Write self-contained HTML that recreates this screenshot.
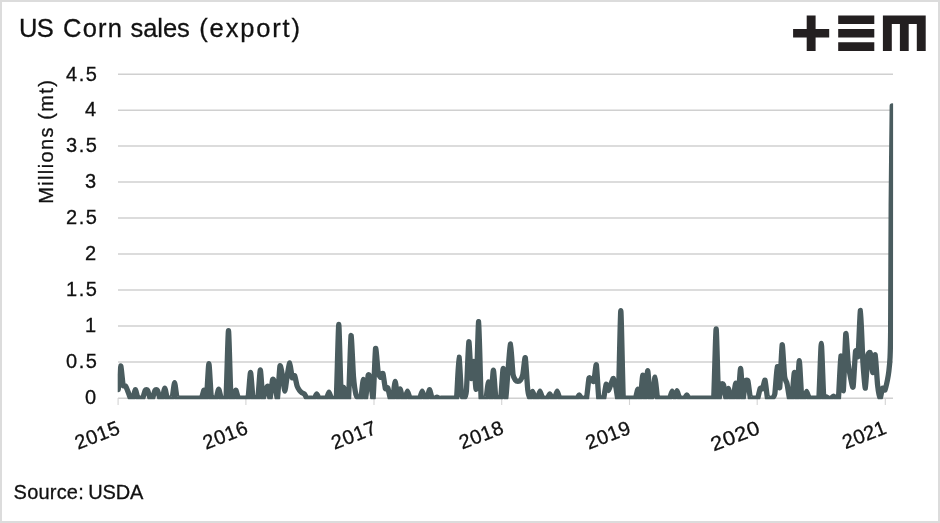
<!DOCTYPE html>
<html><head><meta charset="utf-8"><title>US Corn sales (export)</title>
<style>
html,body{margin:0;padding:0;background:#fff;}
body{width:940px;height:523px;overflow:hidden;position:relative;font-family:"Liberation Sans",sans-serif;}
#frame{position:absolute;left:0;top:0;width:936px;height:519px;border:2px solid #dcdcdc;background:#fff;}
svg{position:absolute;left:0;top:0;will-change:transform;}
text{font-family:"Liberation Sans",sans-serif;fill:#111;stroke:#111;stroke-width:0.3px;}
</style></head><body>
<div id="frame"></div>
<svg width="940" height="523" viewBox="0 0 940 523">
<defs><clipPath id="plot"><rect x="117.7" y="60" width="775.4" height="339.25"/></clipPath></defs>
<g stroke="#d0d0d0" stroke-width="1.5" fill="none"><line x1="118" x2="893" y1="74.15" y2="74.15"/><line x1="118" x2="893" y1="110.13" y2="110.13"/><line x1="118" x2="893" y1="146.11" y2="146.11"/><line x1="118" x2="893" y1="182.09" y2="182.09"/><line x1="118" x2="893" y1="218.07" y2="218.07"/><line x1="118" x2="893" y1="254.05" y2="254.05"/><line x1="118" x2="893" y1="290.03" y2="290.03"/><line x1="118" x2="893" y1="326.01" y2="326.01"/><line x1="118" x2="893" y1="361.99" y2="361.99"/></g>
<g stroke="#d0d0d0" stroke-width="1.3" fill="none"><line x1="118" x2="893" y1="398.25" y2="398.25"/></g><g stroke="#d4d4d4" stroke-width="1.1" fill="none"><line x1="118.1" x2="118.1" y1="398" y2="405"/><line x1="245.9" x2="245.9" y1="398" y2="405"/><line x1="374.0" x2="374.0" y1="398" y2="405"/><line x1="501.7" x2="501.7" y1="398" y2="405"/><line x1="629.5" x2="629.5" y1="398" y2="405"/><line x1="757.2" x2="757.2" y1="398" y2="405"/><line x1="885.3" x2="885.3" y1="398" y2="405"/></g>
<g font-size="25.5"><text x="19.06" y="37.1" letter-spacing="-0.6">US</text><text x="63.1" y="37.1" letter-spacing="1.17">Corn</text><text x="130.5" y="37.1" letter-spacing="-0.05">sales</text><text x="199.3" y="37.1" letter-spacing="1.83">(export)</text></g>
<g font-size="20"><text x="13.6" y="499.3" letter-spacing="0.2">Source:</text><text x="88.2" y="499.3" letter-spacing="-0.13">USDA</text></g>
<g font-size="20"><text x="98.4" y="80.5" text-anchor="end" letter-spacing="1.5">4.5</text><text x="96.1" y="116.4" text-anchor="end" letter-spacing="0">4</text><text x="98.4" y="152.4" text-anchor="end" letter-spacing="1.5">3.5</text><text x="96.1" y="188.4" text-anchor="end" letter-spacing="0">3</text><text x="98.4" y="224.4" text-anchor="end" letter-spacing="1.5">2.5</text><text x="96.1" y="260.3" text-anchor="end" letter-spacing="0">2</text><text x="98.4" y="296.3" text-anchor="end" letter-spacing="1.5">1.5</text><text x="96.1" y="332.3" text-anchor="end" letter-spacing="0">1</text><text x="98.4" y="368.3" text-anchor="end" letter-spacing="1.5">0.5</text><text x="96.1" y="404.3" text-anchor="end" letter-spacing="0">0</text></g>
<g font-size="20"><text transform="translate(121.6,433) rotate(-21) scale(1,1)" text-anchor="end" letter-spacing="0.55">2015</text><text transform="translate(249.6,433) rotate(-21) scale(1,1)" text-anchor="end" letter-spacing="0.55">2016</text><text transform="translate(378.2,433) rotate(-21) scale(1,1)" text-anchor="end" letter-spacing="0.55">2017</text><text transform="translate(505.1,433) rotate(-21) scale(1,1)" text-anchor="end" letter-spacing="0.35">2018</text><text transform="translate(632.4,433) rotate(-21) scale(1,1)" text-anchor="end" letter-spacing="0.55">2019</text><text transform="translate(761.7,433) rotate(-21) scale(1.1,1)" text-anchor="end" letter-spacing="0.55">2020</text><text transform="translate(887.7,433) rotate(-21) scale(1,1)" text-anchor="end" letter-spacing="0.15">2021</text></g>
<g font-size="20"><text transform="translate(52.9,203.8) rotate(-90)" letter-spacing="1.36">Millions</text><text transform="translate(52.9,119.8) rotate(-90)" letter-spacing="1.4">(mt)</text></g>
<g clip-path="url(#plot)"><path d="M118.25,389.61C118.25,389.61 120.21,366.27 120.70,365.84C121.19,365.41 122.66,383.26 123.15,385.29C123.45,386.55 125.11,385.50 125.60,386.15C126.09,386.80 127.56,390.56 128.05,391.77C128.54,392.98 130.01,397.60 130.50,398.25C130.99,398.90 132.46,399.11 132.95,398.25C133.44,397.39 134.91,389.61 135.40,389.61C135.89,389.61 137.36,397.39 137.85,398.25C138.34,399.11 139.81,398.25 140.30,398.25C140.79,398.25 142.26,399.04 142.75,398.25C143.24,397.46 144.71,391.12 145.20,390.33C145.69,389.54 147.16,389.54 147.65,390.33C148.13,391.12 149.60,397.46 150.09,398.25C150.58,399.04 152.05,399.04 152.54,398.25C153.03,397.46 154.50,391.12 154.99,390.33C155.48,389.54 156.95,389.54 157.44,390.33C157.93,391.12 159.40,397.46 159.89,398.25C160.38,399.04 161.85,399.26 162.34,398.25C162.83,397.24 164.30,388.17 164.79,388.17C165.28,388.17 166.75,397.24 167.24,398.25C167.73,399.26 169.20,398.25 169.69,398.25C170.18,398.25 171.78,399.42 172.14,398.25C172.63,396.68 174.10,382.55 174.59,382.55C175.08,382.55 176.55,396.68 177.04,398.25C177.41,399.42 179.00,398.25 179.49,398.25C179.98,398.25 181.45,398.25 181.94,398.25C182.43,398.25 183.90,398.25 184.39,398.25C184.88,398.25 186.35,398.25 186.84,398.25C187.33,398.25 188.80,398.25 189.29,398.25C189.78,398.25 191.25,398.25 191.74,398.25C192.23,398.25 193.70,398.25 194.19,398.25C194.68,398.25 196.15,398.25 196.64,398.25C197.13,398.25 198.60,398.25 199.09,398.25C199.58,398.25 201.05,399.05 201.54,398.25C202.03,397.45 203.50,390.26 203.99,390.26C204.48,390.26 205.95,400.91 206.44,398.25C206.93,395.59 208.40,363.61 208.89,363.61C209.38,363.61 210.85,394.79 211.34,398.25C211.51,399.46 213.30,398.25 213.79,398.25C214.28,398.25 215.75,399.17 216.24,398.25C216.73,397.33 218.20,389.03 218.69,389.03C219.18,389.03 220.65,397.33 221.14,398.25C221.63,399.17 223.10,398.25 223.59,398.25C224.08,398.25 225.95,399.47 226.04,398.25C226.53,391.48 228.00,330.55 228.49,330.55C228.98,330.55 230.45,391.48 230.94,398.25C231.02,399.47 232.90,399.05 233.39,398.25C233.88,397.45 235.35,390.26 235.84,390.26C236.33,390.26 237.80,397.45 238.29,398.25C238.78,399.05 240.25,398.25 240.74,398.25C241.23,398.25 242.70,398.25 243.19,398.25C243.68,398.25 245.15,398.25 245.64,398.25C246.13,398.25 247.86,399.45 248.09,398.25C248.58,395.66 250.05,372.32 250.54,372.32C251.03,372.32 252.50,395.66 252.99,398.25C253.21,399.45 254.95,398.25 255.44,398.25C255.93,398.25 257.68,399.46 257.89,398.25C258.38,395.41 259.85,369.87 260.34,369.87C260.83,369.87 262.30,396.13 262.79,398.25C263.28,400.37 264.75,392.24 265.24,391.05C265.73,389.86 267.20,385.65 267.69,386.37C268.18,387.09 269.65,398.93 270.14,398.25C270.63,397.57 272.10,380.97 272.59,379.52C273.08,378.08 274.55,381.97 275.04,383.85C275.53,385.72 277.00,400.03 277.49,398.25C277.98,396.47 279.45,368.36 279.94,366.06C280.43,363.75 281.90,372.70 282.39,375.20C282.88,377.70 284.35,391.05 284.84,391.05C285.33,391.05 286.80,378.01 287.29,375.20C287.78,372.39 289.26,362.71 289.75,362.96C290.24,363.21 291.71,376.45 292.20,377.72C292.69,379.00 294.16,374.88 294.65,375.71C295.14,376.54 296.61,384.52 297.10,386.01C297.59,387.49 299.06,389.86 299.55,390.54C300.04,391.23 301.51,392.51 302.00,392.85C302.49,393.19 303.96,393.39 304.45,393.93C304.94,394.47 306.41,397.82 306.90,398.25C307.39,398.68 308.86,398.25 309.35,398.25C309.84,398.25 311.32,398.25 311.81,398.25C312.30,398.25 313.77,398.68 314.26,398.25C314.75,397.82 316.22,393.93 316.71,393.93C317.20,393.93 318.67,397.82 319.16,398.25C319.65,398.68 321.12,398.25 321.61,398.25C322.10,398.25 323.57,398.25 324.06,398.25C324.55,398.25 326.03,398.86 326.52,398.25C327.01,397.64 328.48,392.13 328.97,392.13C329.46,392.13 330.93,397.64 331.42,398.25C331.91,398.86 333.38,398.25 333.87,398.25C334.36,398.25 336.24,399.47 336.32,398.25C336.81,390.87 338.29,324.43 338.78,324.43C339.27,324.43 340.74,391.95 341.23,398.25C341.66,403.77 343.19,387.45 343.68,387.45C344.17,387.45 345.64,397.17 346.13,398.25C346.62,399.33 348.49,399.47 348.59,398.25C349.08,391.98 350.55,337.75 351.04,335.59C351.53,333.43 353.00,370.74 353.49,376.64C353.98,382.55 355.45,392.49 355.94,394.65C356.43,396.77 357.91,397.89 358.40,398.25C358.89,398.61 360.54,399.44 360.85,398.25C361.34,396.38 362.81,379.52 363.30,379.52C363.79,379.52 365.27,398.68 365.76,398.25C366.25,397.82 367.72,377.08 368.21,375.20C368.70,373.33 370.17,377.22 370.66,379.52C371.15,381.83 372.63,401.35 373.12,398.25C373.61,395.15 375.08,351.29 375.57,348.56C376.06,345.82 377.53,368.00 378.02,370.88C378.51,373.76 379.99,377.10 380.48,377.36C380.97,377.62 382.44,372.36 382.93,373.48C383.42,374.59 384.89,387.08 385.38,388.53C385.79,389.72 387.35,386.98 387.84,387.95C388.33,388.92 389.80,397.22 390.29,398.25C390.78,399.28 392.40,399.43 392.75,398.25C393.24,396.57 394.71,381.47 395.20,381.47C395.69,381.47 397.16,397.51 397.65,398.25C398.14,398.99 399.62,388.89 400.11,388.89C400.60,388.89 402.07,397.31 402.56,398.25C403.05,399.19 404.53,398.97 405.02,398.25C405.51,397.53 406.98,391.05 407.47,391.05C407.96,391.05 409.43,397.53 409.93,398.25C410.42,398.97 411.89,398.25 412.38,398.25C412.87,398.25 414.34,398.25 414.83,398.25C415.33,398.25 416.80,398.25 417.29,398.25C417.78,398.25 419.25,398.97 419.74,398.25C420.23,397.53 421.71,391.05 422.20,391.05C422.69,391.05 424.16,397.53 424.65,398.25C425.14,398.97 426.62,399.11 427.11,398.25C427.60,397.39 429.07,389.61 429.56,389.61C430.05,389.61 431.53,397.39 432.02,398.25C432.51,399.11 433.98,398.36 434.47,398.25C434.96,398.14 436.44,397.17 436.93,397.17C437.42,397.17 438.89,398.14 439.38,398.25C439.87,398.36 441.35,398.25 441.84,398.25C442.33,398.25 443.80,398.25 444.29,398.25C444.78,398.25 446.26,398.25 446.75,398.25C447.24,398.25 448.71,398.25 449.20,398.25C449.69,398.25 451.17,398.25 451.66,398.25C452.15,398.25 453.62,398.25 454.11,398.25C454.60,398.25 456.42,399.47 456.57,398.25C457.06,394.14 458.53,357.49 459.02,357.13C459.51,356.77 460.99,390.54 461.48,394.65C461.74,396.81 463.44,398.61 463.93,398.25C464.42,397.89 466.06,394.84 466.39,391.05C466.88,385.39 468.35,342.98 468.84,341.71C469.33,340.45 470.81,376.39 471.30,378.37C471.79,380.35 473.26,360.47 473.75,361.52C474.24,362.57 475.72,392.88 476.21,388.89C476.70,384.90 478.17,320.68 478.66,321.62C479.15,322.56 480.63,390.59 481.12,398.25C481.19,399.47 483.08,398.25 483.57,398.25C484.06,398.25 485.67,399.42 486.03,398.25C486.52,396.62 487.99,381.97 488.48,381.97C488.97,381.97 490.44,399.43 490.93,398.25C491.43,397.07 492.90,370.16 493.39,370.16C493.88,370.16 495.35,395.44 495.84,398.25C496.05,399.46 497.81,398.25 498.30,398.25C498.79,398.25 500.55,399.46 500.75,398.25C501.24,395.26 502.71,368.36 503.20,368.36C503.70,368.36 505.17,398.14 505.66,398.25C506.15,398.36 507.62,374.86 508.11,369.44C508.60,364.03 510.08,343.59 510.57,344.09C511.06,344.60 512.53,370.87 513.02,374.48C513.44,377.59 514.98,379.56 515.47,380.25C515.96,380.93 517.44,381.33 517.93,381.33C518.42,381.33 519.89,380.93 520.38,380.25C520.87,379.56 522.34,376.74 522.83,374.48C523.32,372.23 524.79,356.19 525.29,357.70C525.78,359.22 527.25,385.55 527.74,389.61C528.23,393.66 529.70,398.06 530.19,398.25C530.68,398.44 532.15,391.48 532.64,391.48C533.13,391.48 534.60,397.57 535.09,398.25C535.59,398.93 537.06,398.97 537.55,398.25C538.04,397.53 539.51,391.05 540.00,391.05C540.49,391.05 541.96,397.53 542.45,398.25C542.94,398.97 544.41,398.25 544.90,398.25C545.39,398.25 546.86,398.68 547.35,398.25C547.84,397.82 549.31,393.93 549.80,393.93C550.29,393.93 551.77,397.82 552.26,398.25C552.75,398.68 554.22,398.97 554.71,398.25C555.20,397.53 556.67,391.05 557.16,391.05C557.65,391.05 559.12,397.53 559.61,398.25C560.10,398.97 561.57,398.25 562.06,398.25C562.55,398.25 564.02,398.25 564.51,398.25C565.00,398.25 566.47,398.25 566.96,398.25C567.45,398.25 568.92,398.25 569.41,398.25C569.90,398.25 571.37,398.25 571.86,398.25C572.35,398.25 573.82,398.25 574.31,398.25C574.80,398.25 576.27,398.57 576.76,398.25C577.25,397.93 578.72,395.01 579.21,395.01C579.69,395.01 581.16,397.93 581.65,398.25C582.14,398.57 583.61,398.25 584.10,398.25C584.59,398.25 586.26,399.44 586.55,398.25C587.04,396.24 588.51,380.03 589.00,378.16C589.35,376.80 590.96,379.22 591.45,379.52C591.94,379.83 593.42,382.67 593.90,381.25C594.39,379.78 595.85,363.13 596.34,364.83C596.83,366.53 598.30,394.91 598.79,398.25C598.97,399.46 600.75,398.25 601.24,398.25C601.73,398.25 603.28,399.40 603.69,398.25C604.18,396.86 605.64,385.12 606.13,384.35C606.62,383.58 608.09,390.59 608.58,390.54C609.07,390.49 610.54,385.06 611.03,383.85C611.52,382.63 612.98,378.01 613.47,378.37C613.96,378.73 615.43,385.46 615.92,387.45C616.41,389.43 618.01,403.78 618.37,398.25C618.86,390.56 620.32,310.53 620.81,310.53C621.30,310.53 622.77,389.48 623.26,398.25C623.33,399.47 625.22,398.25 625.70,398.25C626.19,398.25 627.66,398.25 628.15,398.25C628.64,398.25 630.11,398.25 630.60,398.25C631.08,398.25 632.55,398.25 633.04,398.25C633.53,398.25 635.00,399.17 635.49,398.25C635.98,397.33 637.44,389.03 637.93,389.03C638.42,389.03 639.89,399.63 640.38,398.25C640.87,396.87 642.33,375.20 642.82,375.20C643.31,375.20 644.78,398.70 645.27,398.25C645.76,397.80 647.22,370.67 647.71,370.67C648.20,370.67 649.67,395.74 650.16,398.25C650.49,399.97 652.20,397.44 652.60,395.73C653.09,393.63 654.56,376.97 655.05,377.22C655.53,377.47 657.00,396.15 657.49,398.25C657.77,399.44 659.45,398.25 659.93,398.25C660.42,398.25 661.89,398.25 662.38,398.25C662.87,398.25 664.33,398.25 664.82,398.25C665.31,398.25 666.78,398.25 667.27,398.25C667.76,398.25 669.22,398.97 669.71,398.25C670.20,397.53 671.67,391.05 672.16,391.05C672.65,391.05 674.11,398.29 674.60,398.25C675.09,398.21 676.56,390.69 677.04,390.69C677.53,390.69 679.00,397.49 679.49,398.25C679.98,399.01 681.44,398.25 681.93,398.25C682.42,398.25 683.89,398.57 684.38,398.25C684.87,397.93 686.33,395.01 686.82,395.01C687.31,395.01 688.78,397.93 689.26,398.25C689.75,398.57 691.22,398.25 691.71,398.25C692.20,398.25 693.66,398.25 694.15,398.25C694.64,398.25 696.11,398.25 696.60,398.25C697.09,398.25 698.55,398.25 699.04,398.25C699.53,398.25 701.00,398.25 701.48,398.25C701.97,398.25 703.44,398.25 703.93,398.25C704.42,398.25 705.88,398.25 706.37,398.25C706.86,398.25 708.33,398.25 708.82,398.25C709.31,398.25 710.77,398.25 711.26,398.25C711.75,398.25 713.62,399.47 713.70,398.25C714.19,391.31 715.66,328.82 716.15,328.82C716.64,328.82 718.10,392.68 718.59,398.25C719.08,403.82 720.55,385.93 721.04,384.57C721.45,383.42 723.07,383.42 723.48,384.57C723.97,385.93 725.44,397.86 725.93,398.25C726.42,398.64 727.88,388.46 728.37,388.46C728.86,388.46 730.33,397.27 730.81,398.25C731.30,399.23 732.88,399.41 733.26,398.25C733.75,396.74 735.22,383.13 735.70,383.13C736.19,383.13 737.66,399.73 738.15,398.25C738.64,396.77 740.10,368.36 740.59,368.36C741.08,368.36 742.55,396.99 743.04,398.25C743.53,399.51 744.99,382.69 745.48,380.97C745.82,379.79 747.59,379.79 747.93,380.97C748.42,382.69 749.88,396.52 750.37,398.25C750.71,399.43 752.33,398.25 752.82,398.25C753.31,398.25 754.77,398.25 755.26,398.25C755.75,398.25 757.22,399.23 757.71,398.25C758.20,397.27 759.66,389.43 760.15,388.46C760.64,387.48 762.11,389.35 762.60,388.53C763.09,387.71 764.55,379.27 765.04,380.25C765.53,381.22 767.00,396.45 767.49,398.25C767.81,399.43 769.45,398.25 769.93,398.25C770.42,398.25 771.89,398.68 772.38,398.25C772.87,397.82 774.45,396.38 774.83,393.93C775.32,390.76 776.78,367.19 777.27,366.56C777.76,365.93 779.23,389.85 779.72,387.66C780.21,385.47 781.67,345.77 782.16,344.67C782.65,343.57 784.12,372.73 784.61,376.64C785.08,380.42 786.57,381.69 787.06,383.85C787.55,386.01 789.01,396.81 789.50,398.25C789.90,399.41 791.72,399.45 791.95,398.25C792.44,395.66 793.91,372.32 794.40,372.32C794.88,372.32 796.35,399.41 796.84,398.25C797.33,397.09 798.80,360.73 799.29,360.73C799.78,360.73 801.25,394.50 801.73,398.25C801.89,399.46 803.69,398.93 804.18,398.25C804.67,397.57 806.14,391.48 806.63,391.48C807.12,391.48 808.59,397.57 809.07,398.25C809.56,398.93 811.03,398.25 811.52,398.25C812.01,398.25 813.48,398.25 813.97,398.25C814.46,398.25 815.93,398.25 816.42,398.25C816.91,398.25 818.75,399.47 818.86,398.25C819.35,392.78 820.82,343.51 821.31,343.51C821.80,343.51 823.27,392.92 823.76,398.25C823.89,399.66 825.72,396.81 826.20,396.81C826.69,396.81 828.16,398.11 828.65,398.25C829.14,398.39 830.61,398.47 831.10,398.25C831.59,398.03 833.06,396.09 833.55,396.09C834.04,396.09 835.51,398.03 836.00,398.25C836.48,398.47 838.30,399.47 838.44,398.25C838.93,394.02 840.40,356.67 840.89,355.90C841.38,355.13 842.85,392.76 843.34,390.54C843.83,388.33 845.30,336.41 845.79,333.72C846.28,331.03 847.74,359.24 848.23,363.68C848.72,368.12 850.19,375.78 850.68,378.08C851.17,380.39 852.64,389.41 853.13,386.73C853.62,384.05 855.09,354.32 855.58,351.29C856.04,348.46 857.69,359.33 858.03,356.48C858.52,352.39 859.99,309.81 860.47,310.39C860.96,310.96 862.43,354.46 862.92,362.24C863.41,370.02 864.88,388.89 865.37,388.17C865.86,387.45 867.33,358.57 867.82,355.04C868.04,353.42 869.83,351.30 870.27,352.88C870.76,354.63 872.23,372.42 872.72,372.61C873.21,372.81 874.68,353.55 875.17,354.82C875.65,356.09 877.12,380.94 877.61,385.29C878.10,389.63 879.57,397.95 880.06,398.25C880.55,398.55 882.02,389.06 882.51,388.24C883.00,387.42 884.47,390.84 884.96,390.04C885.45,389.24 887.01,382.12 887.40,380.25C887.79,378.37 888.59,373.59 888.85,371.31C889.12,369.04 889.87,361.61 890.05,357.49C890.23,353.36 890.55,343.77 890.65,330.05C890.76,314.82 891.04,227.64 891.20,205.24C891.36,182.83 892.25,105.99 892.25,105.99" fill="none" stroke="#4a5c5f" stroke-width="5.3" stroke-linejoin="round" stroke-linecap="round"/></g>
<g fill="#231f20">
<path d="M806.7,15.5h8.9v13.4h13.6v8.6h-13.6v13.4h-8.9v-13.4h-13.6v-8.6h13.6z"/>
<path d="M838.2,15.5h36.1v8.6h-36.1zM838.2,28.9h36.1v8.6h-36.1zM838.2,42.2h36.1v8.7h-36.1z"/>
<path d="M882.9,15.5h42.8v35.4h-8.9v-26.8h-8.1v26.8h-8.8v-26.8h-8.1v26.8h-8.9z"/>
</g>
</svg>
</body></html>
